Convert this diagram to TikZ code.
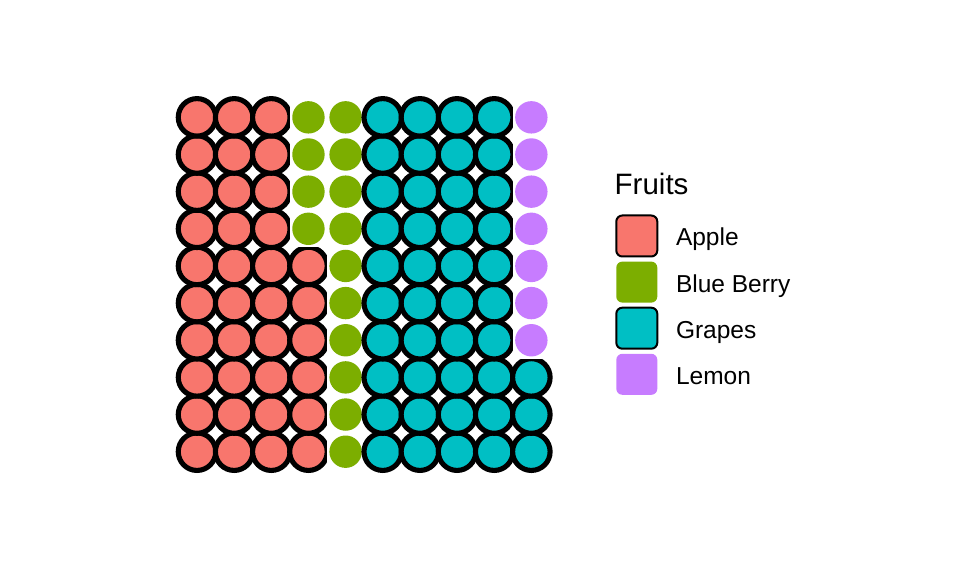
\documentclass[tikz,border=0pt]{standalone}
\usepackage{fontspec}
\setmainfont{Liberation Sans}
\usetikzlibrary{positioning}
\definecolor{applecol}{HTML}{F8766D}
\definecolor{berrycol}{HTML}{7CAE00}
\definecolor{grapecol}{HTML}{00BFC4}
\definecolor{lemoncol}{HTML}{C77CFF}

\begin{document}
\begin{tikzpicture}[%
        x=1pt, y=1pt,
        node distance=5.1pt,
        apple/.style={%
          circle,
          inner sep=0,
          minimum size=37.5pt,
          draw=black,
          line width=5.1pt,
          fill=applecol
        },
        grape/.style={apple, fill=grapecol},
        bare/.style={%
          rectangle, inner sep=0, minimum size=37.15pt, fill=white,
          path picture={\fill[#1] (path picture bounding box.center) circle (16.2pt);}
        },
        key/.style={rectangle, rounded corners=6pt, inner sep=0, outer sep=0, minimum size=41pt},
        lab/.style={inner sep=0, anchor=base west, yshift=-10pt, font=\fontsize{24.5}{29}\selectfont},
        ttl/.style={inner sep=0, anchor=base west, font=\fontsize{29.5}{35}\selectfont}
      ]
      \useasboundingbox (0,0) rectangle (960,576);

      \begin{scope}[shift={(197,124.3)}, x=37.15pt, y=37.15pt]
        % apples
        \foreach \c in {0,1,2}
          \foreach \r in {0,...,9}
            \node[apple] (apple-\c-\r) at (\c,\r) {};
        \foreach \r in {0,...,5}
          \node[apple] (apple-3-\r) at (3,\r) {};
        % blue berries
        \foreach \r in {6,...,9}
          \node[bare=berrycol] (berry-3-\r) at (3,\r) {};
        \foreach \r in {0,...,9}
          \node[bare=berrycol] (berry-4-\r) at (4,\r) {};
        % grapes
        \foreach \c in {5,...,8}
          \foreach \r in {0,...,9}
            \node[grape] (grape-\c-\r) at (\c,\r) {};
        \foreach \r in {0,1,2}
          \node[grape] (grape-9-\r) at (9,\r) {};
        % lemons
        \foreach \r in {3,...,9}
          \node[bare=lemoncol] (lemon-9-\r) at (9,\r) {};
      \end{scope}

      % legend
      \node[ttl] (title) at (614.5,381) {Fruits};
      \node[key, draw=black, line width=2pt, fill=applecol] (kapple) [below right=20.5pt and 1.8pt of title.base west, anchor=north west] {};
      \node[key, fill=berrycol] (kberry) [below=of kapple] {};
      \node[key, draw=black, line width=2pt, fill=grapecol] (kgrape) [below=of kberry] {};
      \node[key, fill=lemoncol] (klemon) [below=of kgrape] {};
      \node[right=18.5pt of kapple, lab] (lapple) {Apple};
      \node[right=18.5pt of kberry, lab] (lberry) {Blue Berry};
      \node[right=18.5pt of kgrape, lab] (lgrape) {Grapes};
      \node[right=18.5pt of klemon, lab] (llemon) {Lemon};

  \end{tikzpicture}
\end{document}
